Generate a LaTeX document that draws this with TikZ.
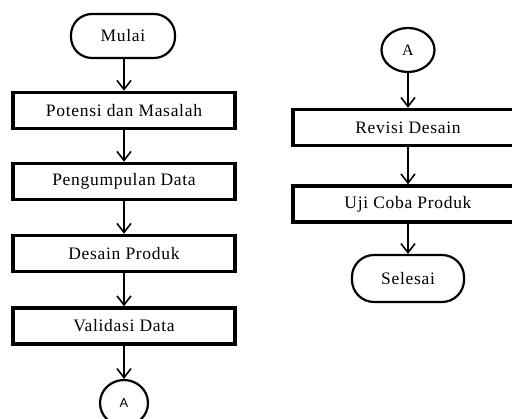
\documentclass[tikz,border=0pt]{standalone}
\usepackage{fontspec}
\setmainfont[LetterSpace=4]{Liberation Serif}
\newfontfamily\arialfont{Liberation Sans}
\usetikzlibrary{arrows.meta,shapes.geometric}
\tikzset{
  procbox/.style={draw, line width=3.5pt, minimum width=222pt, minimum height=36pt, inner sep=0pt, font=\fontsize{17.5}{20}\selectfont},
  termbox/.style={draw, line width=2.2pt, rounded corners=21pt, inner sep=0pt, font=\fontsize{17.5}{20}\selectfont},
  conn/.style={draw, ellipse, line width=2.2pt, inner sep=0pt},
  flow/.style={line width=1.6pt, -{Straight Barb[length=9pt,width=14pt,line width=1.6pt]}}
}
\begin{document}
\begin{tikzpicture}[x=1pt,y=-1pt]
\useasboundingbox (0,0) rectangle (512,419);
\clip (0,0) rectangle (512,419);
\fill[white] (0,0) rectangle (512,419);
% left column
\node[termbox, minimum width=104pt, minimum height=44pt] (mulai) at (123,36) {Mulai};
\node[procbox] (pot) at (124,110.5) {Potensi dan Masalah};
\node[procbox] (peng) at (124,181.5) {Pengumpulan Data};
\node[procbox] (des) at (124,253.5) {Desain Produk};
\node[procbox] (val) at (124,326) {Validasi Data};
\node[conn, minimum width=48pt, minimum height=46pt, font=\arialfont\fontsize{13}{15}\selectfont] (a1) at (124,403) {A};
\draw[flow] (mulai.south -| pot) -- (pot.north);
\draw[flow] (pot) -- (peng);
\draw[flow] (peng) -- (des);
\draw[flow] (des) -- (val);
\draw[flow] (val) -- (a1);
% right column
\node[conn, minimum width=53pt, minimum height=44pt, font=\fontsize{16}{18}\selectfont] (a2) at (408,50) {A};
\node[procbox, minimum width=230pt] (rev) at (408,127.5) {Revisi Desain};
\node[procbox, minimum width=230pt] (uji) at (408,204) {Uji Coba Produk};
\node[termbox, minimum width=112pt, minimum height=47pt, rounded corners=22pt] (sel) at (408,278.5) {Selesai};
\draw[flow] (a2) -- (rev);
\draw[flow] (rev) -- (uji);
\draw[flow] (uji) -- (sel);
\end{tikzpicture}
\end{document}
